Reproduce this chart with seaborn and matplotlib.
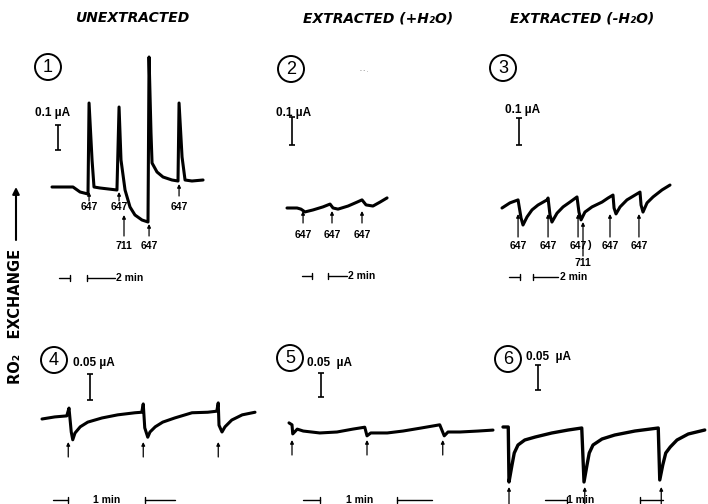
import matplotlib
matplotlib.use("Agg")
import matplotlib.pyplot as plt
import matplotlib.transforms as mtrans
from matplotlib.patches import Circle
import pandas as pd
import seaborn as sns

sns.set_theme(style="white")
plt.rcParams["font.family"] = ["Liberation Sans", "DejaVu Sans"]
plt.rcParams["text.color"] = "black"

W, H = 708, 504

# ---- traces: time (min) vs electrode current (uA) ----
# 1: unextracted, 647 / 711 nm flashes
p1_t = [0, 1.4, 1.87, 2.4, 2.47, 2.67, 2.8, 3.2, 4.33, 4.47, 4.6, 4.87, 5.2, 5.53, 6.0, 6.4,
        6.47, 6.6, 6.67, 7.0, 7.4, 8.0, 8.4, 8.47, 8.67, 8.87, 9.33, 10.07]
p1_i = [0, 0, -0.02, -0.028, 0.336, 0.108, 0, -0.004, -0.012, 0.32, 0.108, -0.012, -0.08, -0.112, -0.132, -0.14,
        0.52, 0.216, 0.096, 0.06, 0.04, 0.028, 0.024, 0.336, 0.12, 0.028, 0.024, 0.028]
p1_647 = [2.47, 4.47, 6.47, 8.47]
p1_711 = [4.8]

# 2: extracted (+H2O)
p2_t = [0, 0.67, 0.93, 1.2, 1.73, 2.4, 2.87, 3.07, 3.4, 4.07, 4.67, 5.0, 5.27, 5.73, 6.2, 6.67]
p2_i = [0, 0, -0.004, -0.014, -0.007, 0.004, 0.014, 0, -0.004, 0.007, 0.021, 0.029, 0.011, 0.007, 0.021, 0.036]
p2_647 = [1.07, 3.0, 5.0]

# 3: extracted (-H2O)
p3_t = [0, 0.53, 1.07, 1.27, 1.4, 1.67, 2.0, 2.4, 3.0, 3.07, 3.2, 3.33, 3.67, 4.07, 4.53, 5.0,
        5.13, 5.27, 5.53, 6.0, 6.67, 7.07, 7.4, 7.47, 7.6, 7.87, 8.33, 8.87, 9.2, 9.27, 9.4,
        9.67, 10.07, 10.67, 11.2]
p3_i = [0, 0.019, 0.030, -0.037, -0.063, -0.033, -0.007, 0.011, 0.030, 0.037, -0.026, -0.052, -0.019, 0.004, 0.022, 0.041,
        -0.015, -0.044, -0.015, 0.004, 0.022, 0.037, 0.048, 0, -0.022, 0.004, 0.030, 0.048, 0.059, 0.011, -0.015,
        0.019, 0.041, 0.067, 0.085]
p3_647 = [1.07, 3.07, 5.07, 7.2, 9.13]
p3_711 = [5.4]

# 4-6: 1 min flash series
p4_t = [0, 0.17, 0.33, 0.36, 0.39, 0.41, 0.44, 0.51, 0.61, 0.8, 1.01, 1.24, 1.33, 1.35, 1.37, 1.41,
        1.44, 1.51, 1.61, 1.77, 2.0, 2.21, 2.33, 2.35, 2.36, 2.4, 2.44, 2.53, 2.67, 2.84]
p4_i = [0, 0.004, 0.006, 0.021, -0.025, -0.040, -0.027, -0.015, -0.006, 0.002, 0.008, 0.012, 0.013, 0.029, -0.017, -0.035,
        -0.025, -0.015, -0.006, 0.002, 0.012, 0.013, 0.015, 0.031, -0.012, -0.025, -0.015, -0.002, 0.008, 0.013]
p4_fl = [0.35, 1.35, 2.35]

p5_t = [0, 0.04, 0.05, 0.11, 0.19, 0.41, 0.64, 0.85, 1.01, 1.04, 1.09, 1.31, 1.52, 1.75, 2.01, 2.07,
        2.12, 2.28, 2.52, 2.72]
p5_i = [0.019, 0.015, -0.004, 0.006, 0.002, -0.002, 0, 0.006, 0.010, -0.008, -0.002, -0.002, 0.002, 0.008, 0.015, -0.008,
        0, 0, 0.002, 0.004]
p5_fl = [0.04, 1.04, 2.05]

p6_t = [0, 0.07, 0.08, 0.12, 0.15, 0.2, 0.29, 0.43, 0.65, 0.87, 1.05, 1.08, 1.12, 1.15, 1.2, 1.32,
        1.49, 1.76, 2.07, 2.09, 2.13, 2.17, 2.23, 2.32, 2.47, 2.69]
p6_i = [0, 0, -0.110, -0.076, -0.052, -0.036, -0.026, -0.020, -0.012, -0.006, -0.002, -0.110, -0.076, -0.052, -0.036, -0.024,
        -0.016, -0.008, -0.002, -0.106, -0.076, -0.052, -0.040, -0.026, -0.014, -0.006]
p6_fl = [0.08, 1.09, 2.11]

fig = plt.figure(figsize=(W / 100, H / 100), dpi=100)
bg = fig.add_axes([0, 0, 1, 1])
bg.set_xlim(0, W)
bg.set_ylim(H, 0)
bg.axis("off")


def panel(x0, y0, sx, sy, t0, t1, i0, i1):
    # axes whose data units (min, uA) land on the recorder scale of the panel
    left, right = x0 + t0 * sx, x0 + t1 * sx
    top, bot = y0 - i1 * sy, y0 - i0 * sy
    ax = fig.add_axes([left / W, 1 - bot / H, (right - left) / W, (bot - top) / H])
    ax.set_xlim(t0, t1)
    ax.set_ylim(i0, i1)
    ax.axis("off")
    return ax


def trace(ax, t, i, lw=2.2):
    df = pd.DataFrame({"t": t, "i": i})
    sns.lineplot(data=df, x="t", y="i", ax=ax, sort=False, estimator=None,
                 color="black", lw=lw, solid_joinstyle="round", solid_capstyle="round")
    ax.set_xlabel("")
    ax.set_ylabel("")


def flash(ax, t, y_from, y_to, label=None, y_lab=None, lw=0.9):
    tr = mtrans.blended_transform_factory(ax.transData, bg.transData)
    ax.annotate("", xy=(t, y_to), xytext=(t, y_from), xycoords=tr, textcoords=tr,
                arrowprops=dict(arrowstyle="-|>", color="black", lw=lw, mutation_scale=5,
                                shrinkA=0, shrinkB=0), annotation_clip=False)
    if label:
        ax.text(t, y_lab, label, transform=tr, ha="center", va="center",
                fontsize=7.5, fontweight="bold", clip_on=False)


def ibar(ax, t, i_lo, amount):
    ax.errorbar([t], [i_lo + amount / 2], yerr=[amount / 2], color="black",
                lw=1.2, capsize=2.5, capthick=1.2, clip_on=False)


def time_bar(y, l0, l1, r0, r1, text, tx, ha="left"):
    kw = dict(color="black", lw=1.0)
    bg.plot([l0, l1], [y, y], **kw)
    bg.plot([l1, l1], [y - 3, y + 3], **kw)
    bg.plot([r0, r0], [y - 3, y + 3], **kw)
    bg.plot([r0, r1], [y, y], **kw)
    bg.text(tx, y, text, ha=ha, va="center", fontsize=7.5, fontweight="bold")


def circled(x, y, n, r=13):
    bg.add_patch(Circle((x, y), r, fill=False, ec="black", lw=1.4))
    bg.text(x, y + 0.5, n, ha="center", va="center", fontsize=13)


# column titles
for x, s in [(132, "UNEXTRACTED"), (378, "EXTRACTED (+H₂O)"), (582, "EXTRACTED (-H₂O)")]:
    bg.text(x, 18, s, ha="center", va="center", fontsize=10, fontweight="bold",
            style="italic", family="DejaVu Sans")

# y-axis label with arrow
bg.annotate("", xy=(16, 187), xytext=(16, 240),
            arrowprops=dict(arrowstyle="-|>", color="black", lw=1.5, mutation_scale=10,
                            shrinkA=0, shrinkB=0))
bg.text(16, 316, "RO₂   EXCHANGE", rotation=90, ha="center", va="center",
        fontsize=10.5, fontweight="bold", family="DejaVu Sans")

# ---- panel 1 ----
a1 = panel(52, 187, 15, 250, -4, 12, -0.3, 0.6)
trace(a1, p1_t, p1_i)
flash(a1, p1_647[0], 201, 192, "647", 207)
flash(a1, p1_647[1], 201, 192, "647", 207)
flash(a1, p1_711[0], 236, 215, "711", 246)
flash(a1, p1_647[2], 236, 224, "647", 246)
flash(a1, p1_647[3], 196, 184, "647", 207)
ibar(a1, 0.4, 0.148, 0.1)
circled(48, 67, "1")
bg.text(35, 113, "0.1 µA", ha="left", va="center", fontsize=8.5, fontweight="bold")
time_bar(278, 59, 70, 87, 115, "2 min", 116)

# ---- panel 2 ----
a2 = panel(287, 208, 15, 280, -2, 8, -0.2, 0.4)
trace(a2, p2_t, p2_i)
for t in p2_647:
    flash(a2, t, 223, 211, "647", 235)
ibar(a2, 0.33, 0.225, 0.1)
circled(291, 69, "2")
bg.text(276, 113, "0.1 µA", ha="left", va="center", fontsize=8.5, fontweight="bold")
bg.text(364, 71, "- - .", ha="center", va="center", fontsize=4, color="#555555")
time_bar(276, 302, 312, 328, 347, "2 min", 348)

# ---- panel 3 ----
a3 = panel(502, 208, 15, 270, -1, 13, -0.2, 0.4)
trace(a3, p3_t, p3_i)
for t in p3_647:
    flash(a3, t, 237, 214, "647", 246)
flash(a3, p3_711[0], 256, 222, "711", 263)
bg.text(589, 245, ")", ha="center", va="center", fontsize=8, fontweight="bold")
ibar(a3, 1.13, 0.233, 0.1)
circled(503, 68, "3")
bg.text(505, 110, "0.1 µA", ha="left", va="center", fontsize=8.5, fontweight="bold")
time_bar(277, 509, 520, 533, 558, "2 min", 560)

# ---- panel 4 ----
a4 = panel(42, 419, 75, 520, -0.5, 3.0, -0.15, 0.15)
trace(a4, p4_t, p4_i)
for t in p4_fl:
    flash(a4, t, 457, 442)
ibar(a4, 0.64, 0.037, 0.05)
circled(54, 360, "4")
bg.text(73, 363, "0.05 µA", ha="left", va="center", fontsize=8.5, fontweight="bold")
time_bar(500, 53, 68, 145, 175, "1 min", 107, ha="center")

# ---- panel 5 ----
a5 = panel(289, 432, 75, 480, -0.5, 3.0, -0.15, 0.15)
trace(a5, p5_t, p5_i)
for t in p5_fl:
    flash(a5, t, 455, 440)
ibar(a5, 0.43, 0.073, 0.05)
circled(290, 358, "5")
bg.text(307, 363, "0.05  µA", ha="left", va="center", fontsize=8.5, fontweight="bold")
time_bar(500, 303, 320, 397, 432, "1 min", 360, ha="center")

# ---- panel 6 ----
a6 = panel(503, 427, 75, 500, -0.2, 2.8, -0.2, 0.15)
trace(a6, p6_t, p6_i, lw=2.4)
for t in p6_fl:
    flash(a6, t, 510, 487)
ibar(a6, 0.47, 0.074, 0.05)
circled(508, 359, "6")
bg.text(526, 357, "0.05  µA", ha="left", va="center", fontsize=8.5, fontweight="bold")
time_bar(500, 545, 567, 640, 663, "1 min", 581, ha="center")

fig.savefig("out.png", dpi=100)
